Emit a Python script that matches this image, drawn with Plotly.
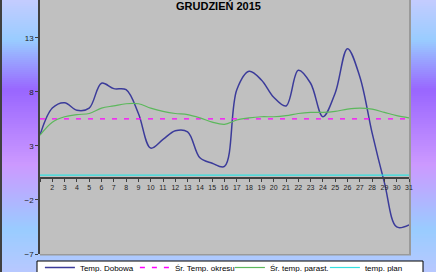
import plotly.graph_objects as go

# ---------------- data ----------------
days = list(range(1, 32))
x_labels = [""] + [str(d) for d in range(2, 32)]
temp_dobowa = [4.0, 6.5, 7.0, 6.3, 6.5, 8.8, 8.3, 8.2, 6.0, 2.8, 3.6, 4.4, 4.3, 1.9, 1.4, 1.1,
               8.2, 9.9, 9.1, 7.5, 6.7, 10.0, 8.8, 5.7, 7.9, 12.0, 9.4, 4.2, -0.4, -4.5, -4.3]
sr_temp_okresu = [5.5, 5.5, 5.5, 5.5, 5.5, 5.5, 5.5, 5.5, 5.5, 5.5, 5.5, 5.5, 5.5, 5.5, 5.5, 5.5,
                  5.5, 5.5, 5.5, 5.5, 5.5, 5.5, 5.5, 5.5, 5.5, 5.5, 5.5, 5.5, 5.5, 5.5, 5.5]
sr_temp_parast = [4.0, 5.2, 5.7, 5.9, 6.0, 6.5, 6.7, 6.9, 6.9, 6.5, 6.2, 6.0, 5.9, 5.6, 5.2, 5.0,
                  5.4, 5.6, 5.7, 5.7, 5.8, 6.0, 6.1, 6.1, 6.2, 6.4, 6.5, 6.4, 6.1, 5.8, 5.6]
temp_plan = [0.3, 0.3, 0.3, 0.3, 0.3, 0.3, 0.3, 0.3, 0.3, 0.3, 0.3, 0.3, 0.3, 0.3, 0.3, 0.3,
             0.3, 0.3, 0.3, 0.3, 0.3, 0.3, 0.3, 0.3, 0.3, 0.3, 0.3, 0.3, 0.3, 0.3, 0.3]
y_ticks = [13, 8, 3, -2, -7]
title = "GRUDZIEŃ 2015"

# ---------------- layout geometry ----------------
W, H = 436, 272
ML, MR, MT, MB = 40, 27, 0, 18
PW, PH = W - ML - MR, H - MT - MB
YMIN, YMAX = -7, 16.5


def px_x(p):
    return (p - ML) / PW


def px_y(p):
    return (H - MB - p) / PH


fig = go.Figure()
fig.add_trace(go.Scatter(x=days, y=temp_dobowa, name="Temp. Dobowa", mode="lines",
                         line=dict(color="#3b3b9a", width=1.5, shape="spline", smoothing=1.0)))
fig.add_trace(go.Scatter(x=days, y=sr_temp_okresu, name="Śr. Temp. okresu", mode="lines",
                         line=dict(color="#ff00ff", width=1.3, dash="5px,7px")))
fig.add_trace(go.Scatter(x=days, y=sr_temp_parast, name="Śr. temp. parast.", mode="lines",
                         line=dict(color="#5cb85c", width=1.2, shape="spline", smoothing=1.0)))
fig.add_trace(go.Scatter(x=days, y=temp_plan, name="temp. plan", mode="lines",
                         line=dict(color="#33e0e0", width=1.2)))

# ---------------- background gradient ----------------
stops = [(0, (196, 204, 255)), (40, (153, 204, 255)), (90, (153, 102, 255)),
         (165, (204, 153, 255)), (230, (153, 204, 255)), (272, (184, 200, 255))]


def grad(p):
    for (a, ca), (b, cb) in zip(stops[:-1], stops[1:]):
        if a <= p <= b:
            t = (p - a) / (b - a)
            c = [round(ca[i] + (cb[i] - ca[i]) * t) for i in range(3)]
            return "rgb(%d,%d,%d)" % tuple(c)
    return "rgb(%d,%d,%d)" % stops[-1][1]


shapes = []
step = 2
for p in range(0, H, step):
    shapes.append(dict(type="rect", xref="paper", yref="paper", layer="below",
                       x0=px_x(0), x1=px_x(W), y0=px_y(p + step + 0.5), y1=px_y(p),
                       fillcolor=grad(p + step / 2), line=dict(width=0)))
# left dark border
shapes.append(dict(type="rect", xref="paper", yref="paper", layer="below",
                   x0=px_x(0), x1=px_x(2), y0=px_y(H), y1=px_y(0),
                   fillcolor="#404040", line=dict(width=0)))
# plot area shadow + gray plot area
shapes.append(dict(type="rect", xref="paper", yref="paper", layer="below",
                   x0=0, x1=px_x(ML + PW + 2), y0=px_y(H - MB + 1.5), y1=1,
                   fillcolor="#9a9a9a", line=dict(width=0)))
shapes.append(dict(type="rect", xref="paper", yref="paper", layer="below",
                   x0=0, x1=1, y0=0, y1=1,
                   fillcolor="#c0c0c0", line=dict(width=0)))
# legend box
shapes.append(dict(type="rect", xref="paper", yref="paper", layer="above",
                   x0=px_x(37), x1=px_x(423), y0=px_y(285), y1=px_y(261),
                   fillcolor="white", line=dict(color="black", width=1)))

xpos = (0 - YMIN) / (YMAX - YMIN)

fig.update_layout(
    width=W, height=H,
    margin=dict(l=ML, r=MR, t=MT, b=MB, pad=0, autoexpand=False),
    paper_bgcolor="#b0c8ff",
    plot_bgcolor="rgba(0,0,0,0)",
    font=dict(family="Liberation Sans, Arial", size=8, color="#222"),
    shapes=shapes,
    showlegend=True,
    legend=dict(orientation="h", x=px_x(39.9), y=px_y(282), xanchor="left", yanchor="bottom",
                bgcolor="rgba(0,0,0,0)", borderwidth=0,
                font=dict(family="Liberation Sans, Arial", size=8, color="black"),
                entrywidth=50, itemwidth=30, tracegroupgap=0),
    xaxis=dict(range=[1, 31], tickmode="array", tickvals=days, ticktext=x_labels,
               anchor="free", position=xpos, showline=True, linecolor="#404040", linewidth=1.5,
               ticks="outside", ticklen=3, tickwidth=1, tickcolor="#404040",
               tickfont=dict(size=7, color="#222"), showgrid=False, zeroline=False,
               fixedrange=True),
    yaxis=dict(range=[YMIN, YMAX], tickmode="array", tickvals=y_ticks,
               showline=True, linecolor="#404040", linewidth=1.5,
               ticks="outside", ticklen=3, tickwidth=1, tickcolor="#404040",
               tickfont=dict(size=8, color="#222"), showgrid=False, zeroline=False),
    annotations=[dict(text="<b>" + title + "</b>", xref="paper", yref="paper",
                      x=px_x(218), y=1, xanchor="center", yanchor="top", yshift=2,
                      showarrow=False, font=dict(family="Liberation Sans, Arial", size=11,
                                                 color="black"))],
)

fig.write_html("out.html")
